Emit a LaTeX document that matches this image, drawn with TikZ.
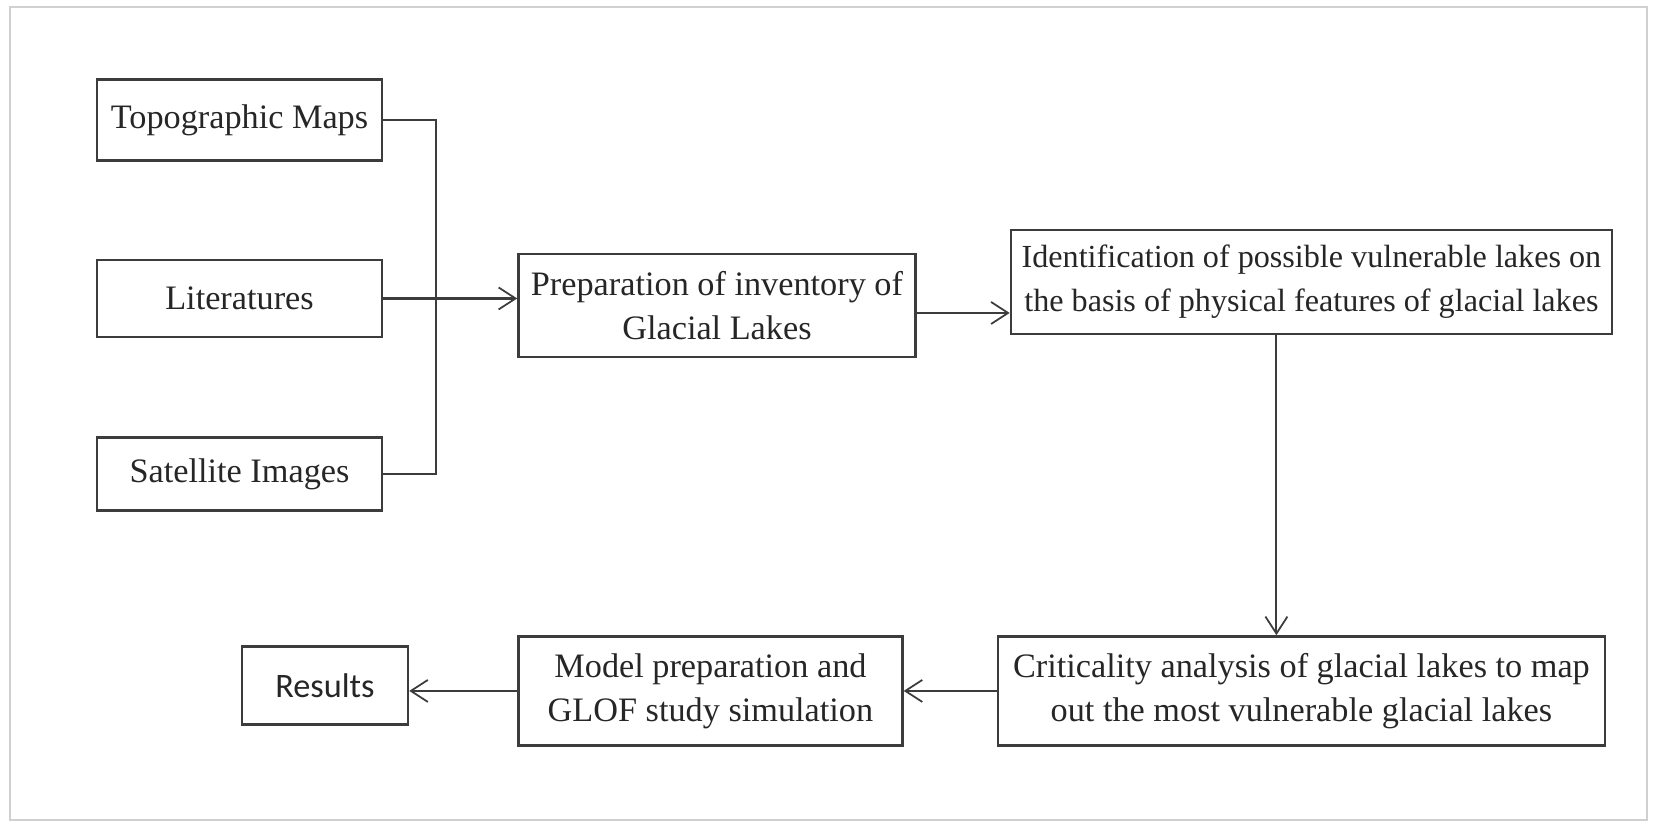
\documentclass[tikz,border=0pt]{standalone}
\usepackage{fontspec}
\setmainfont{Liberation Serif}
\newfontfamily\resultsfont{Carlito}
\usetikzlibrary{positioning,arrows.meta}
\definecolor{linegray}{HTML}{3C3C3C}
\definecolor{framegray}{HTML}{D0D0D0}

\begin{document}
\begin{tikzpicture}[
    box/.style={draw=linegray, line width=1.4pt, align=center, inner sep=2pt,
                font=\fontsize{19.5}{25}\selectfont, text=black!85},
    link/.style={draw=linegray, line width=1.2pt},
    flow/.style={link, -{Straight Barb[length=0.34cm, width=0.44cm, line width=1pt]}}
]
    \useasboundingbox (0,0) rectangle (33.22,-16.48);
    \draw[framegray, line width=1.5pt] (0.2,-0.14) rectangle (32.94,-16.4);

    % data sources
    \node[box, minimum width=5.7cm, minimum height=1.62cm] (topo) at (4.79,-2.40) {Topographic Maps};
    \node[box, minimum width=5.7cm, minimum height=1.54cm, below=1.94cm of topo] (lit) {Literatures};
    \node[box, minimum width=5.7cm, minimum height=1.46cm, below=1.96cm of lit] (sat) {Satellite Images};

    % processing steps
    \node[box, minimum width=7.94cm, minimum height=2.06cm, right=2.68cm of lit, yshift=-0.14cm] (prep)
        {Preparation of inventory of\\Glacial Lakes};
    \node[box, minimum width=12.02cm, minimum height=2.08cm, right=1.86cm of prep, yshift=0.47cm,
          font=\fontsize{18.3}{25}\selectfont] (ident)
        {Identification of possible vulnerable lakes on\\the basis of physical features of glacial lakes};
    \node[box, minimum width=12.14cm, minimum height=2.18cm, below=6.0cm of ident, xshift=-0.2cm] (crit)
        {Criticality analysis of glacial lakes to map\\out the most vulnerable glacial lakes};
    \node[box, minimum width=7.68cm, minimum height=2.18cm, left=1.86cm of crit] (model)
        {Model preparation and\\GLOF study simulation};
    \node[box, minimum width=3.32cm, minimum height=1.56cm, left=2.16cm of model, yshift=0.11cm,
          font=\resultsfont\fontsize{19.5}{25}\selectfont] (results) {Results};

    % connectors
    \coordinate[right=1.06cm of topo.east] (bus);
    \draw[link] (topo.east) -- (bus) |- (sat.east);
    \draw[flow] (lit.east) -- (lit.east -| prep.west);
    \draw[flow] ([yshift=-0.15cm]prep.east) -- ([yshift=-0.15cm]prep.east -| ident.west);
    \coordinate[left=0.7cm of ident.south] (drop);
    \draw[flow] (drop) -- (drop |- crit.north);
    \draw[flow] (crit.west) -- (crit.west -| model.east);
    \draw[flow] (model.west) -- (model.west -| results.east);
\end{tikzpicture}
\end{document}
